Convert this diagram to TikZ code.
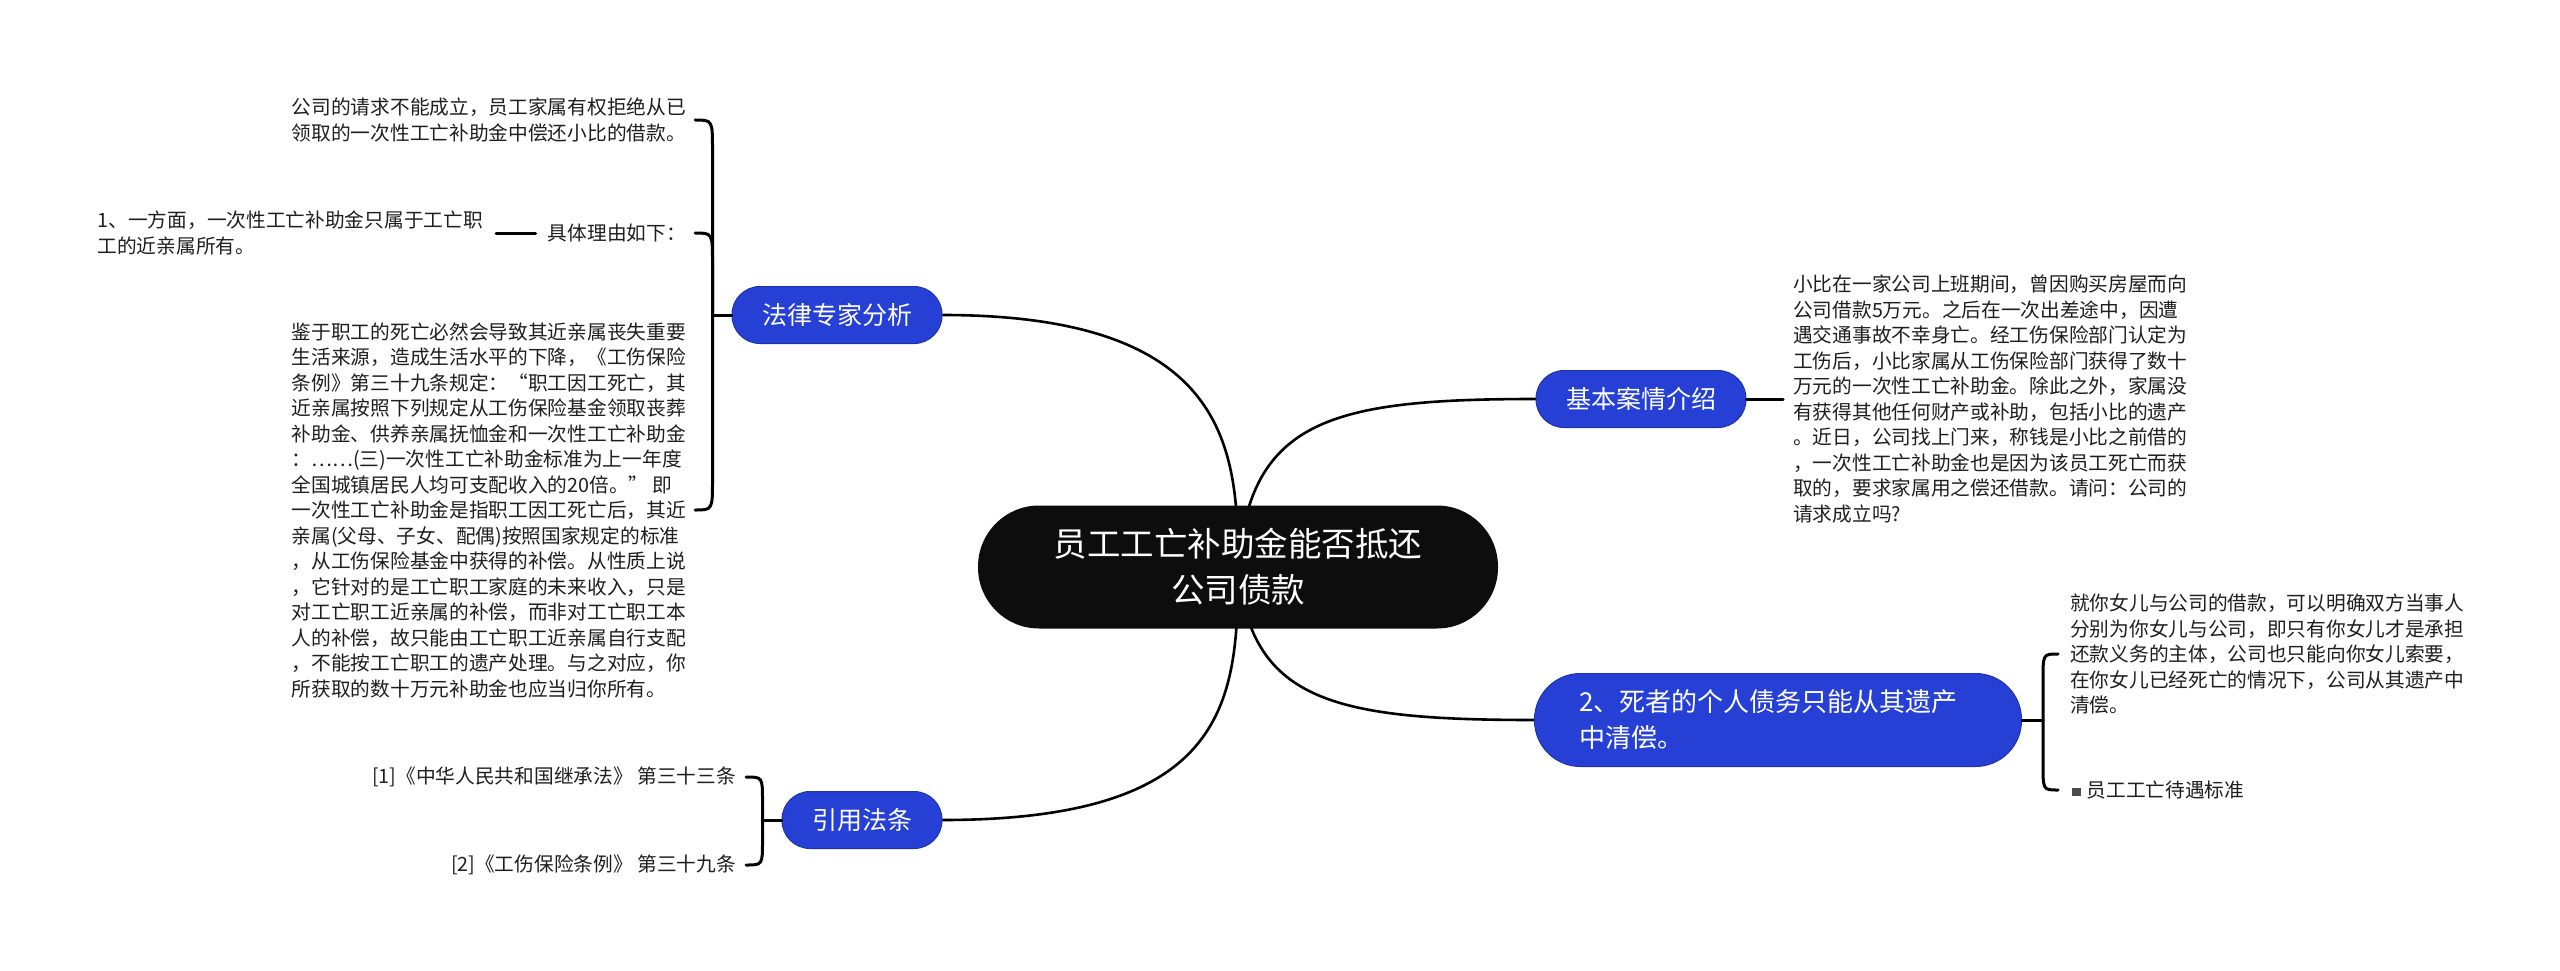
\documentclass[tikz,border=0pt]{standalone}
\usepackage{fontspec}
\setmainfont{Noto Sans CJK SC}
\usetikzlibrary{positioning, backgrounds}

\definecolor{topicblue}{RGB}{38,64,214}
\definecolor{inkgray}{RGB}{30,30,30}

\begin{document}
\begin{tikzpicture}[
  x=1pt, y=-1pt,
  rootbox/.style={rectangle, rounded corners=61pt, fill=black!95, text=white,
    minimum width=520pt, minimum height=123pt, align=center,
    font=\fontsize{33.5}{46}\selectfont},
  topic/.style={rectangle, rounded corners=28pt, fill=topicblue,
    draw=topicblue!80!black, line width=1pt, text=white,
    minimum height=57pt, inner xsep=30pt, font=\fontsize{25}{30}\selectfont},
  leaf/.style={inner sep=0pt, align=left, text=inkgray,
    font=\fontsize{19.7}{25.5}\selectfont},
  branch/.style={line width=2.6pt, line cap=round},
  brace/.style={line width=3pt, line cap=round},
]
\useasboundingbox (0,0) rectangle (2560,971);

% --- Central topic ---
\node[rootbox] (main) at (1238,567) {员工工亡补助金能否抵还\\公司债款};

% --- Main branches ---
\node[topic] (law) at (837,315) {法律专家分析};
\node[topic] (cite) at (862,820) {引用法条};
\node[topic] (basic) at (1641,399) {基本案情介绍};
\node[topic, rounded corners=46pt, minimum height=93pt, text width=397pt,
  inner xsep=45pt, align=left, font=\fontsize{26}{36}\selectfont]
  (debt) at (1778,720) {2、死者的个人债务只能从其遗产\\中清偿。};

% --- Leaves of law ---
\node[leaf, anchor=east] (ta) at (686,120)
  {公司的请求不能成立，员工家属有权拒绝从已\\领取的一次性工亡补助金中偿还小比的借款。};
\node[leaf, anchor=east] (reason) at (686,233) {具体理由如下：};
\node[leaf, anchor=east] (one) at (483,233)
  {1、一方面，一次性工亡补助金只属于工亡职\\工的近亲属所有。};
\node[leaf, anchor=east] (tc) at (686,510)
  {鉴于职工的死亡必然会导致其近亲属丧失重要\\
   生活来源，造成生活水平的下降，《工伤保险\\
   条例》第三十九条规定：“职工因工死亡，其\\
   近亲属按照下列规定从工伤保险基金领取丧葬\\
   补助金、供养亲属抚恤金和一次性工亡补助金\\
   ：……(三)一次性工亡补助金标准为上一年度\\
   全国城镇居民人均可支配收入的20倍。” 即\\
   一次性工亡补助金是指职工因工死亡后，其近\\
   亲属(父母、子女、配偶)按照国家规定的标准\\
   ，从工伤保险基金中获得的补偿。从性质上说\\
   ，它针对的是工亡职工家庭的未来收入，只是\\
   对工亡职工近亲属的补偿，而非对工亡职工本\\
   人的补偿，故只能由工亡职工近亲属自行支配\\
   ，不能按工亡职工的遗产处理。与之对应，你\\
   所获取的数十万元补助金也应当归你所有。};

% --- Leaves of cite ---
\node[leaf, anchor=east] (ref1) at (736,777) {[1]《中华人民共和国继承法》 第三十三条};
\node[leaf, anchor=east] (ref2) at (736,865) {[2]《工伤保险条例》 第三十九条};

% --- Leaf of basic ---
\node[leaf, anchor=west] (case) at (1793,399)
  {小比在一家公司上班期间，曾因购买房屋而向\\
   公司借款5万元。之后在一次出差途中，因遭\\
   遇交通事故不幸身亡。经工伤保险部门认定为\\
   工伤后，小比家属从工伤保险部门获得了数十\\
   万元的一次性工亡补助金。除此之外，家属没\\
   有获得其他任何财产或补助，包括小比的遗产\\
   。近日，公司找上门来，称钱是小比之前借的\\
   ，一次性工亡补助金也是因为该员工死亡而获\\
   取的，要求家属用之偿还借款。请问：公司的\\
   请求成立吗?};

% --- Leaves of debt ---
\node[leaf, anchor=west] (advice) at (2070,654)
  {就你女儿与公司的借款，可以明确双方当事人\\
   分别为你女儿与公司，即只有你女儿才是承担\\
   还款义务的主体，公司也只能向你女儿索要，\\
   在你女儿已经死亡的情况下，公司从其遗产中\\
   清偿。};
\node[leaf, anchor=west] (standard) at (2072,790)
  {{\color{gray!60!black}\raisebox{1pt}{\rule{8.5pt}{8.5pt}}}\hspace{6pt}员工工亡待遇标准};

% --- Bracket junctions ---
\coordinate[left=19pt of law] (lj);
\coordinate[left=19pt of cite] (cj);
\coordinate[right=21pt of debt] (dj);

% --- Curved links from the centre ---
\begin{scope}[on background layer]
\draw[branch] (main.center) .. controls (1238,450) and (1230,315) .. (law.east);
\draw[branch] (main.center) .. controls (1238,700) and (1230,820) .. (cite.east);
\draw[branch] (main.center) .. controls (1250,420) and (1330,399) .. (basic.west);
\draw[branch] (main.center) .. controls (1250,700) and (1330,720) .. (debt.west);
\end{scope}

% --- Brackets ---
\draw[brace] (law.west) -- (lj);
\draw[brace] (lj) -- ([yshift=-30pt]lj |- ta.east) .. controls (lj |- ta.east) .. ([xshift=9pt]ta.east);
\draw[brace] (lj) -- ([yshift=-30pt]lj |- reason.east) .. controls (lj |- reason.east) .. ([xshift=9pt]reason.east);
\draw[brace] (lj) -- ([yshift=30pt]lj |- tc.east) .. controls (lj |- tc.east) .. ([xshift=9pt]tc.east);
\draw[brace] ([xshift=-12pt]reason.west) -- ([xshift=13pt]one.east);

\draw[brace] (cite.west) -- (cj);
\draw[brace] (cj) -- ([yshift=-24pt]cj |- ref1.east) .. controls (cj |- ref1.east) .. ([xshift=10pt]ref1.east);
\draw[brace] (cj) -- ([yshift=24pt]cj |- ref2.east) .. controls (cj |- ref2.east) .. ([xshift=10pt]ref2.east);

\draw[brace] (basic.east) -- ([xshift=-10pt]case.west);

\draw[brace] (debt.east) -- (dj);
\draw[brace] (dj) -- ([yshift=-26pt]dj |- advice.west) .. controls (dj |- advice.west) .. ([xshift=-12pt]advice.west);
\draw[brace] (dj) -- ([yshift=26pt]dj |- standard.west) .. controls (dj |- standard.west) .. ([xshift=-14pt]standard.west);

\end{tikzpicture}
\end{document}
